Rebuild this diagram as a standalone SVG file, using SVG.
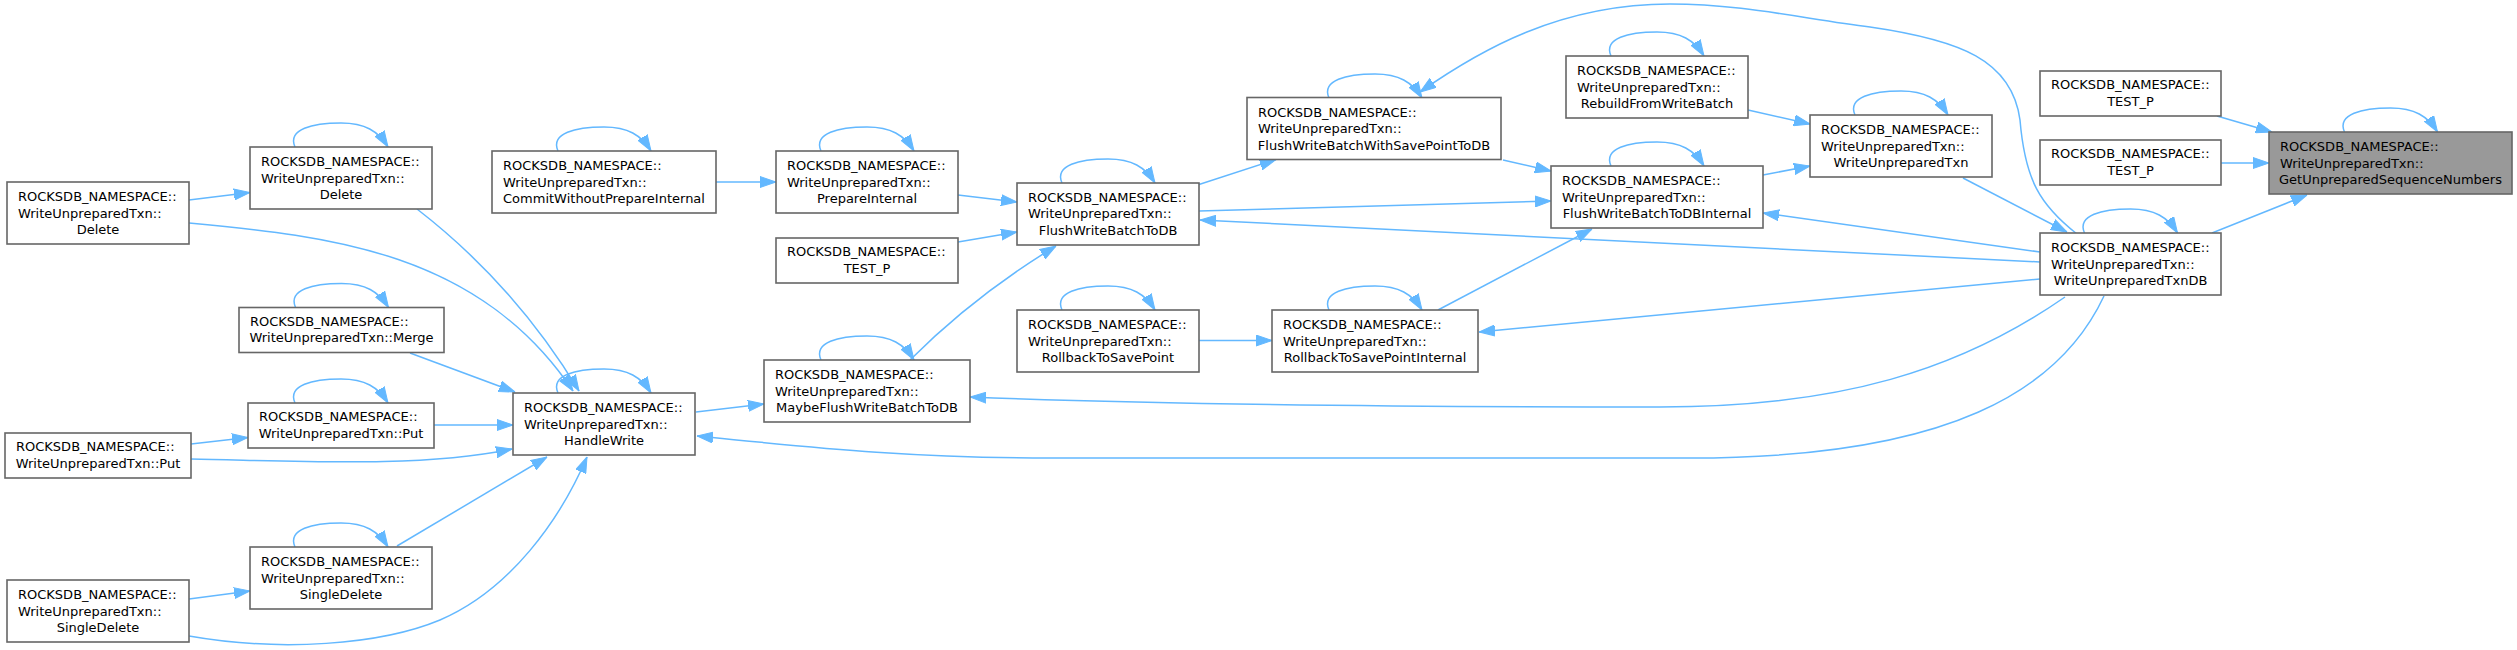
<svg xmlns="http://www.w3.org/2000/svg" width="2517" height="650" viewBox="0 0 2517 650">
<style>
.n rect{fill:#ffffff;stroke:#666666;stroke-width:1.6}
.g rect{fill:#999999}
text{font-family:"DejaVu Sans","Liberation Sans",sans-serif;font-size:13px;fill:#000000}
.m{text-anchor:middle}
#edges path{fill:none;stroke:#63B8FF;stroke-width:1.5;marker-end:url(#a)}
</style>
<defs>
<marker id="a" markerUnits="userSpaceOnUse" markerWidth="16" markerHeight="12" refX="16" refY="6" orient="auto" viewBox="0 0 16 12">
<path d="M0,0.5 L16,6 L0,11.5 Z" fill="#63B8FF" stroke="#63B8FF" stroke-width="1"/>
</marker>
</defs>
<rect width="2517" height="650" fill="#ffffff"/>
<g id="edges">
<path d="M2217,116 L2272,132"/>
<path d="M2221,163 L2269,163"/>
<path d="M2212,233 L2307,195"/>
<path d="M1963,178 L2067,232"/>
<path d="M1748,110 L1810,124"/>
<path d="M1763,175 L1810,166"/>
<path d="M2040,252 L1763,213"/>
<path d="M1503,160 L1551,171"/>
<path d="M1199,211 L1551,201"/>
<path d="M2040,262 L1200,220"/>
<path d="M1438,310 L1592,229"/>
<path d="M2040,279 L1479,332"/>
<path d="M1199,340.5 L1272,340.5"/>
<path d="M2077,234 C2040,205 2025,180 2020,120 C2012,60 1960,40 1870,27 C1800,18 1740,4 1670,4 C1560,4 1480,50 1420,92"/>
<path d="M1199,184.5 L1276,159.5"/>
<path d="M958,195 L1017,202"/>
<path d="M958,242 L1017,232"/>
<path d="M910,360 C950,320 1000,280 1056,246"/>
<path d="M716,182 L776,182"/>
<path d="M696,412 L764,404"/>
<path d="M2065,297 C1960,370 1840,407 1660,407 C1400,407 1150,404 970,397"/>
<path d="M2104,296 C2060,390 1950,458 1690,458 L1050,458 C900,458 800,446 697,436"/>
<path d="M417,209 C470,250 530,310 579,391"/>
<path d="M189,223 C330,236 480,252 573,391"/>
<path d="M189,200 L250,192.5"/>
<path d="M410,353 L515,392"/>
<path d="M434,425 L513,425"/>
<path d="M191,444 L248,437.5"/>
<path d="M191,459 C300,461 420,468 512,449"/>
<path d="M397,546 C450,515 500,485 547,457"/>
<path d="M189,599 L250,591"/>
<path d="M189,636 C280,652 380,645 440,620 C510,590 560,520 587,457"/>
<path d="M2344.5,132 C2336.5,114 2362.5,108 2390.5,108 C2414.5,108 2427.5,116 2437.5,132"/>
<path d="M2084.5,233 C2076.5,215 2102.5,209 2130.5,209 C2154.5,209 2167.5,217 2177.5,233"/>
<path d="M1855,115 C1847,97 1873,91 1901,91 C1925,91 1938,99 1948,115"/>
<path d="M1611,56 C1603,38 1629,32 1657,32 C1681,32 1694,40 1704,56"/>
<path d="M1611,166 C1603,148 1629,142 1657,142 C1681,142 1694,150 1704,166"/>
<path d="M1329,98 C1321,80 1347,74 1375,74 C1399,74 1412,82 1422,98"/>
<path d="M1329,310 C1321,292 1347,286 1375,286 C1399,286 1412,294 1422,310"/>
<path d="M1062,183 C1054,165 1080,159 1108,159 C1132,159 1145,167 1155,183"/>
<path d="M1062,310 C1054,292 1080,286 1108,286 C1132,286 1145,294 1155,310"/>
<path d="M821,151 C813,133 839,127 867,127 C891,127 904,135 914,151"/>
<path d="M821,360 C813,342 839,336 867,336 C891,336 904,344 914,360"/>
<path d="M558,151 C550,133 576,127 604,127 C628,127 641,135 651,151"/>
<path d="M558,393 C550,375 576,369 604,369 C628,369 641,377 651,393"/>
<path d="M295,147 C287,129 313,123 341,123 C365,123 378,131 388,147"/>
<path d="M295.5,307.5 C287.5,289.5 313.5,283.5 341.5,283.5 C365.5,283.5 378.5,291.5 388.5,307.5"/>
<path d="M295,403 C287,385 313,379 341,379 C365,379 378,387 388,403"/>
<path d="M295,547 C287,529 313,523 341,523 C365,523 378,531 388,547"/>
</g>
<g id="N1" class="n g"><rect x="2269" y="132" width="243" height="62"/><text x="2280" y="151.3">ROCKSDB_NAMESPACE::</text><text x="2280" y="167.8">WriteUnpreparedTxn::</text><text class="m" x="2390.5" y="184.3">GetUnpreparedSequenceNumbers</text></g>
<g id="N2" class="n"><rect x="2040" y="71" width="181" height="45"/><text x="2051" y="89.3">ROCKSDB_NAMESPACE::</text><text class="m" x="2130.5" y="105.8">TEST_P</text></g>
<g id="N3" class="n"><rect x="2040" y="140" width="181" height="45"/><text x="2051" y="158.3">ROCKSDB_NAMESPACE::</text><text class="m" x="2130.5" y="174.8">TEST_P</text></g>
<g id="N4" class="n"><rect x="2040" y="233" width="181" height="62"/><text x="2051" y="252.3">ROCKSDB_NAMESPACE::</text><text x="2051" y="268.8">WriteUnpreparedTxn::</text><text class="m" x="2130.5" y="285.3">WriteUnpreparedTxnDB</text></g>
<g id="N5" class="n"><rect x="1810" y="115" width="182" height="62"/><text x="1821" y="134.3">ROCKSDB_NAMESPACE::</text><text x="1821" y="150.8">WriteUnpreparedTxn::</text><text class="m" x="1901" y="167.3">WriteUnpreparedTxn</text></g>
<g id="N6" class="n"><rect x="1566" y="56" width="182" height="62"/><text x="1577" y="75.3">ROCKSDB_NAMESPACE::</text><text x="1577" y="91.8">WriteUnpreparedTxn::</text><text class="m" x="1657" y="108.3">RebuildFromWriteBatch</text></g>
<g id="N7" class="n"><rect x="1551" y="166" width="212" height="62"/><text x="1562" y="185.3">ROCKSDB_NAMESPACE::</text><text x="1562" y="201.8">WriteUnpreparedTxn::</text><text class="m" x="1657" y="218.3">FlushWriteBatchToDBInternal</text></g>
<g id="N8" class="n"><rect x="1247" y="97.5" width="254" height="62"/><text x="1258" y="116.8">ROCKSDB_NAMESPACE::</text><text x="1258" y="133.3">WriteUnpreparedTxn::</text><text class="m" x="1374" y="149.8">FlushWriteBatchWithSavePointToDB</text></g>
<g id="N9" class="n"><rect x="1272" y="310" width="206" height="62"/><text x="1283" y="329.3">ROCKSDB_NAMESPACE::</text><text x="1283" y="345.8">WriteUnpreparedTxn::</text><text class="m" x="1375" y="362.3">RollbackToSavePointInternal</text></g>
<g id="N10" class="n"><rect x="1017" y="183" width="182" height="62"/><text x="1028" y="201.6">ROCKSDB_NAMESPACE::</text><text x="1028" y="218.4">WriteUnpreparedTxn::</text><text class="m" x="1108" y="235.2">FlushWriteBatchToDB</text></g>
<g id="N11" class="n"><rect x="1017" y="310" width="182" height="62"/><text x="1028" y="329.3">ROCKSDB_NAMESPACE::</text><text x="1028" y="345.8">WriteUnpreparedTxn::</text><text class="m" x="1108" y="362.3">RollbackToSavePoint</text></g>
<g id="N12" class="n"><rect x="776" y="151" width="182" height="62"/><text x="787" y="170.3">ROCKSDB_NAMESPACE::</text><text x="787" y="186.8">WriteUnpreparedTxn::</text><text class="m" x="867" y="203.3">PrepareInternal</text></g>
<g id="N13" class="n"><rect x="776" y="238" width="182" height="45"/><text x="787" y="256.3">ROCKSDB_NAMESPACE::</text><text class="m" x="867" y="272.8">TEST_P</text></g>
<g id="N14" class="n"><rect x="764" y="360" width="206" height="62"/><text x="775" y="379.3">ROCKSDB_NAMESPACE::</text><text x="775" y="395.8">WriteUnpreparedTxn::</text><text class="m" x="867" y="412.3">MaybeFlushWriteBatchToDB</text></g>
<g id="N15" class="n"><rect x="492" y="151" width="224" height="62"/><text x="503" y="170.3">ROCKSDB_NAMESPACE::</text><text x="503" y="186.8">WriteUnpreparedTxn::</text><text class="m" x="604" y="203.3">CommitWithoutPrepareInternal</text></g>
<g id="N16" class="n"><rect x="513" y="393" width="182" height="62"/><text x="524" y="412.3">ROCKSDB_NAMESPACE::</text><text x="524" y="428.8">WriteUnpreparedTxn::</text><text class="m" x="604" y="445.3">HandleWrite</text></g>
<g id="N17" class="n"><rect x="250" y="147" width="182" height="62"/><text x="261" y="166.3">ROCKSDB_NAMESPACE::</text><text x="261" y="182.8">WriteUnpreparedTxn::</text><text class="m" x="341" y="199.3">Delete</text></g>
<g id="N18" class="n"><rect x="239" y="307.5" width="205" height="45"/><text x="250" y="325.8">ROCKSDB_NAMESPACE::</text><text class="m" x="341.5" y="342.3">WriteUnpreparedTxn::Merge</text></g>
<g id="N19" class="n"><rect x="248" y="403" width="186" height="45"/><text x="259" y="421.3">ROCKSDB_NAMESPACE::</text><text class="m" x="341" y="437.8">WriteUnpreparedTxn::Put</text></g>
<g id="N20" class="n"><rect x="250" y="547" width="182" height="62"/><text x="261" y="566.3">ROCKSDB_NAMESPACE::</text><text x="261" y="582.8">WriteUnpreparedTxn::</text><text class="m" x="341" y="599.3">SingleDelete</text></g>
<g id="N21" class="n"><rect x="7" y="182" width="182" height="62"/><text x="18" y="201.3">ROCKSDB_NAMESPACE::</text><text x="18" y="217.8">WriteUnpreparedTxn::</text><text class="m" x="98" y="234.3">Delete</text></g>
<g id="N22" class="n"><rect x="5" y="433" width="186" height="45"/><text x="16" y="451.3">ROCKSDB_NAMESPACE::</text><text class="m" x="98" y="467.8">WriteUnpreparedTxn::Put</text></g>
<g id="N23" class="n"><rect x="7" y="580" width="182" height="62"/><text x="18" y="599.3">ROCKSDB_NAMESPACE::</text><text x="18" y="615.8">WriteUnpreparedTxn::</text><text class="m" x="98" y="632.3">SingleDelete</text></g>
</svg>
